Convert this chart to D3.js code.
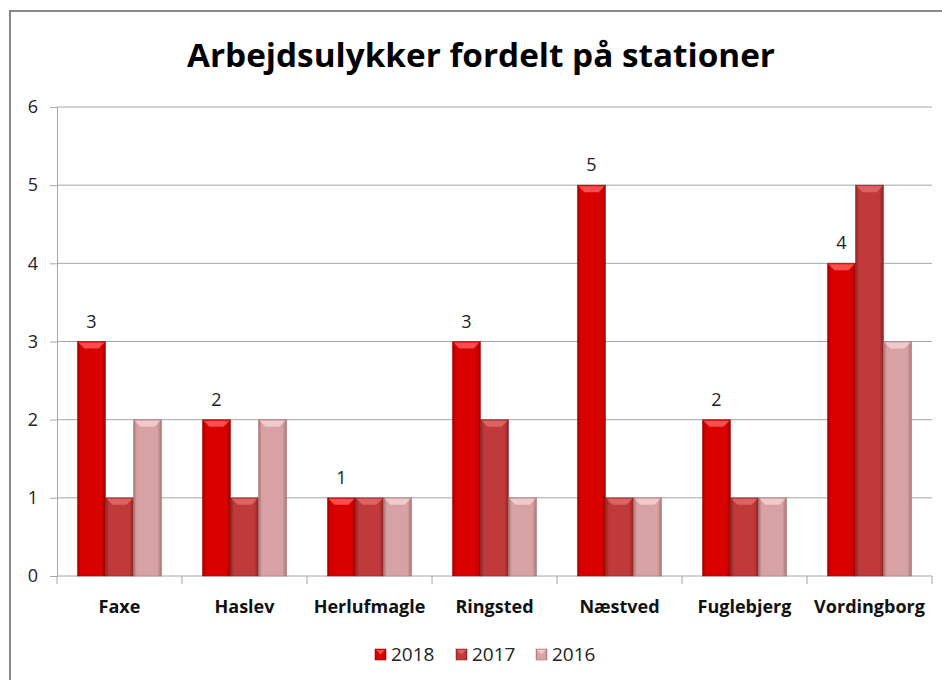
<!DOCTYPE html>
<html>
<head>
<meta charset="utf-8">
<script src="https://cdn.jsdelivr.net/npm/d3@7"></script>
<style>
  html, body { margin: 0; padding: 0; background: #fff; }
  svg { display: block; }
</style>
</head>
<body>
<div id="chart"></div>
<script>
// Data
const stations = ["Faxe", "Haslev", "Herlufmagle", "Ringsted", "Næstved", "Fuglebjerg", "Vordingborg"];
const years = ["2018", "2017", "2016"];
const values2018 = [3, 2, 1, 3, 5, 2, 4];
const values2017 = [1, 1, 1, 2, 1, 1, 5];
const values2016 = [2, 2, 1, 1, 1, 1, 3];
const yTicks = [0, 1, 2, 3, 4, 5, 6];

const width = 942, height = 680;
const plot = { left: 57, right: 932, top: 107, bottom: 576 };

// colours per series: base, edge, top highlight
const colors = {
    "2018": { base: "#d90000", edge: "#9e0000", light: "#ff5a5a" },
    "2017": { base: "#c0393b", edge: "#8a2224", light: "#e06a6c" },
    "2016": { base: "#d8a2a4", edge: "#a87476", light: "#f5d0d2" }
};

const seriesValues = { "2018": values2018, "2017": values2017, "2016": values2016 };
const data = stations.map((s, i) => ({
    station: s,
    bars: years.map(y => ({ year: y, value: seriesValues[y][i] }))
}));

const svg = d3.select("#chart")
    .append("svg")
    .attr("width", width)
    .attr("height", height);

// gradients for bevel look
const defs = svg.append("defs");
years.forEach(y => {
    const g = defs.append("linearGradient")
        .attr("id", "grad" + y)
        .attr("x1", "0%").attr("x2", "100%")
        .attr("y1", "0%").attr("y2", "0%");
    g.append("stop").attr("offset", "0%").attr("stop-color", colors[y].edge);
    g.append("stop").attr("offset", "12%").attr("stop-color", colors[y].base);
    g.append("stop").attr("offset", "85%").attr("stop-color", colors[y].base);
    g.append("stop").attr("offset", "100%").attr("stop-color", colors[y].edge);
});

// outer border
svg.append("rect")
    .attr("x", 10).attr("y", 11)
    .attr("width", width + 20).attr("height", height + 20)
    .attr("fill", "none")
    .attr("stroke", "#888")
    .attr("stroke-width", 2);

// title
svg.append("text")
    .attr("x", 481)
    .attr("y", 67)
    .attr("text-anchor", "middle")
    .attr("font-family", "Open Sans")
    .attr("font-weight", 700)
    .attr("font-size", "33px")
    .attr("fill", "#000")
    .attr("textLength", 588)
    .attr("lengthAdjust", "spacingAndGlyphs")
    .text("Arbejdsulykker fordelt på stationer");

const x0 = d3.scaleBand()
    .domain(stations)
    .range([plot.left, plot.right]);

const x1 = d3.scaleBand()
    .domain(years)
    .range([0, x0.bandwidth()])
    .paddingOuter(0.73);

const y = d3.scaleLinear()
    .domain([0, 6])
    .range([plot.bottom, plot.top]);

// gridlines
svg.append("g")
    .selectAll("line")
    .data(yTicks.filter(d => d > 0))
    .join("line")
    .attr("x1", plot.left).attr("x2", plot.right)
    .attr("y1", d => y(d)).attr("y2", d => y(d))
    .attr("stroke", "#a6a6a6")
    .attr("stroke-width", 1);

// y axis
const yAxis = svg.append("g")
    .attr("transform", `translate(${plot.left},0)`)
    .call(d3.axisLeft(y).tickValues(yTicks).tickSize(7).tickPadding(12).tickFormat(d3.format("d")));
yAxis.select(".domain").attr("stroke", "#a6a6a6");
yAxis.selectAll(".tick line").attr("stroke", "#a6a6a6");
yAxis.selectAll(".tick text")
    .attr("font-family", "Open Sans")
    .attr("font-size", "18px")
    .attr("fill", "#222");

// x axis with ticks between categories
const xAxisG = svg.append("g");
xAxisG.append("line")
    .attr("x1", plot.left).attr("x2", plot.right)
    .attr("y1", plot.bottom).attr("y2", plot.bottom)
    .attr("stroke", "#a6a6a6");
const boundaries = stations.map(s => x0(s)).concat([x0(stations[stations.length - 1]) + x0.bandwidth()]);
xAxisG.selectAll("line.tk")
    .data(boundaries)
    .join("line")
    .attr("class", "tk")
    .attr("x1", d => d).attr("x2", d => d)
    .attr("y1", plot.bottom).attr("y2", plot.bottom + 8)
    .attr("stroke", "#a6a6a6");
xAxisG.selectAll("text")
    .data(stations)
    .join("text")
    .attr("x", d => x0(d) + x0.bandwidth() / 2)
    .attr("y", 613)
    .attr("text-anchor", "middle")
    .attr("font-family", "Open Sans")
    .attr("font-weight", 700)
    .attr("font-size", "18px")
    .attr("fill", "#111")
    .text(d => d);

// bars
function drawBar(sel, bx, by, bw, bh, yr) {
    sel.append("rect")
        .attr("x", bx).attr("y", by)
        .attr("width", bw).attr("height", bh)
        .attr("fill", `url(#grad${yr})`)
        .attr("stroke", colors[yr].edge)
        .attr("stroke-opacity", 0.5)
        .attr("stroke-width", 1);
    const bev = Math.min(7, bh / 2);
    sel.append("polygon")
        .attr("points", [
            [bx + 1, by + 1], [bx + bw - 1, by + 1],
            [bx + bw - bev, by + bev], [bx + bev, by + bev]
        ].map(p => p.join(",")).join(" "))
        .attr("fill", colors[yr].light)
        .attr("opacity", 0.85);
}

const groups = svg.append("g")
    .selectAll("g")
    .data(data)
    .join("g")
    .attr("transform", d => `translate(${x0(d.station)},0)`);

groups.each(function (d) {
    const g = d3.select(this);
    d.bars.forEach(b => {
        const bx = x1(b.year);
        const by = y(b.value);
        drawBar(g, bx, by, x1.bandwidth(), y(0) - by, b.year);
    });
    // data label for 2018 only
    const b18 = d.bars[0];
    g.append("text")
        .attr("x", x1(b18.year) + x1.bandwidth() / 2)
        .attr("y", y(b18.value) - 14)
        .attr("text-anchor", "middle")
        .attr("font-family", "Open Sans")
        .attr("font-size", "18px")
        .attr("fill", "#222")
        .text(b18.value);
});

// legend
const legendX = [375, 456, 536];
const legend = svg.append("g");
years.forEach((yr, i) => {
    const lg = legend.append("g");
    drawBar(lg, legendX[i], 649, 11, 11, yr);
    lg.append("text")
        .attr("x", legendX[i] + 16)
        .attr("y", 661)
        .attr("font-family", "Open Sans")
        .attr("font-size", "19px")
        .attr("fill", "#222")
        .text(yr);
});
</script>
</body>
</html>
